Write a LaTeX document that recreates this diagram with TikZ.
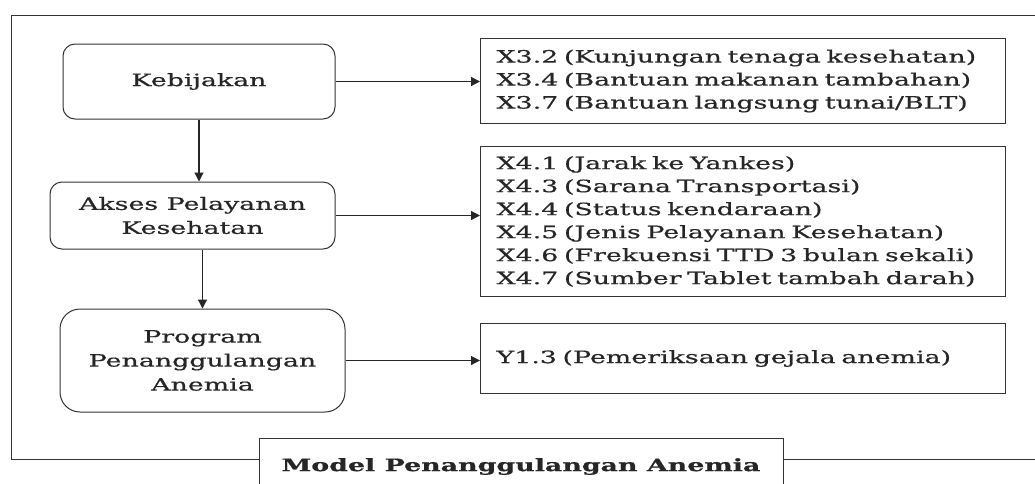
\documentclass[tikz,border=0pt]{standalone}
\usepackage{fontspec}
\setmainfont[FakeStretch=1.58,FakeBold=0.6]{DejaVu Serif}
\usetikzlibrary{arrows.meta}

\tikzset{
  stage/.style={draw=black!80, line width=1pt, rounded corners=12pt, align=center,
    text=black!85, font=\fontsize{17}{24}\selectfont},
  items/.style={draw=black!80, line width=1pt, anchor=north west, align=left,
    text width=493pt, inner xsep=16pt, text=black!85, font=\fontsize{17}{23}\selectfont},
  flow/.style={-{Triangle[length=9pt,width=9pt]}, line width=1.2pt, black!85},
}

\begin{document}
\begin{tikzpicture}[x=1pt,y=-1pt]
  \useasboundingbox (0,0) rectangle (1035,483);
  \clip (0,0) rectangle (1035,483);

  % stages on the left
  \node[stage, minimum width=272pt, minimum height=75pt] (keb) at (199,81.5) {Kebijakan};
  \node[stage, minimum width=285pt, minimum height=67pt] (akses) at (192.5,215.5) {Akses Pelayanan\\Kesehatan};
  \node[stage, rounded corners=20pt, minimum width=285pt, minimum height=103pt] (prog) at (202.5,360.5) {Program\\Penanggulangan\\Anemia};

  % indicator boxes on the right
  \node[items, minimum height=85pt] (x3) at (480,38) {X3.2 (Kunjungan tenaga kesehatan)\\X3.4 (Bantuan makanan tambahan)\\X3.7 (Bantuan langsung tunai/BLT)};
  \node[items, minimum height=150pt] (x4) at (480,146) {X4.1 (Jarak ke Yankes)\\X4.3 (Sarana Transportasi)\\X4.4 (Status kendaraan)\\X4.5 (Jenis Pelayanan Kesehatan)\\X4.6 (Frekuensi TTD 3 bulan sekali)\\X4.7 (Sumber Tablet tambah darah)};
  \node[items, minimum height=70pt] (y1) at (480,323) {Y1.3 (Pemeriksaan gejala anemia)};

  % arrows
  \draw[flow] (keb.south) -- (keb.south |- akses.north);
  \draw[flow] (akses.south -| prog.north) -- (prog.north);
  \draw[flow] (keb.east) -- (keb.east -| x3.west);
  \draw[flow] (akses.east) -- (akses.east -| x4.west);
  \draw[flow] (prog.east) -- (prog.east -| y1.west);

  % frame and caption
  \node[draw=black!80, line width=1pt, anchor=north, minimum width=524pt, minimum height=56pt,
    text=black!85, font=\fontsize{17}{20}\selectfont\bfseries] (cap) at (521,438) {Model Penanggulangan Anemia};
  \draw[black!80, line width=1pt] (cap.west |- 0,459) -| (11,15) -- (1040,15);
  \draw[black!80, line width=1pt] (cap.east |- 0,459) -- (1040,459);
\end{tikzpicture}
\end{document}
